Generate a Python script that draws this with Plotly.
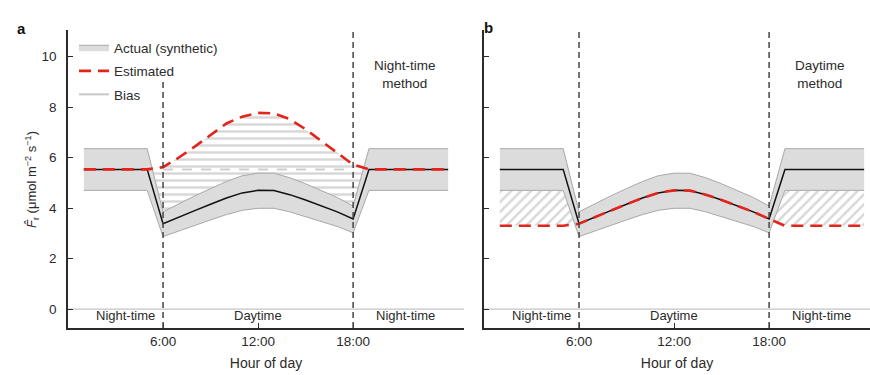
import numpy as np
import plotly.graph_objects as go

# ---------------- data ----------------
hours = [1, 5, 6, 7, 8, 9, 10, 11, 12, 13, 14, 15, 16, 17, 18, 19, 24]
actual_mid = [5.53, 5.53, 3.38, 3.65, 3.9, 4.15, 4.4, 4.6, 4.7, 4.69, 4.53, 4.32, 4.1, 3.85, 3.57, 5.53, 5.53]
actual_upper = [6.35, 6.35, 3.85, 4.18, 4.48, 4.77, 5.05, 5.28, 5.38, 5.38, 5.2, 4.96, 4.7, 4.42, 4.08, 6.35, 6.35]
actual_lower = [4.7, 4.7, 2.87, 3.1, 3.32, 3.53, 3.74, 3.91, 3.99, 3.99, 3.85, 3.66, 3.48, 3.27, 3.02, 4.7, 4.7]
est_nighttime = [5.53, 5.53, 5.62, 6.0, 6.43, 6.9, 7.35, 7.62, 7.77, 7.75, 7.52, 7.12, 6.65, 6.18, 5.72, 5.53, 5.53]
est_daytime = [3.3, 3.3, 3.38, 3.65, 3.9, 4.15, 4.4, 4.6, 4.7, 4.69, 4.53, 4.32, 4.1, 3.85, 3.57, 3.3, 3.3]
night_level_hours = [6, 18]
night_level = [5.53, 5.53]
day_bounds = [6, 18]
xtick_vals = [6, 12, 18]
xtick_text = ["6:00", "12:00", "18:00"]
ytick_vals = [0, 2, 4, 6, 8, 10]
period_labels = ["Night-time", "Daytime", "Night-time"]
period_pos = [3.6, 12, 21.3]

# ---------------- style ----------------
RED = "#e3241c"
BAND = "#dcdcdc"
EDGE = "#a8a8a8"
HATCH = "#b0b0b0"
AX = "#2b2b2b"
TXT = "#2b2b2b"
FONT = "Liberation Sans, Arial, sans-serif"

fig = go.Figure()

fine = np.linspace(hours[0], hours[-1], 1400)
up_f = np.interp(fine, hours, actual_upper)
lo_f = np.interp(fine, hours, actual_lower)
en_f = np.interp(fine, hours, est_nighttime)
ed_f = np.interp(fine, hours, est_daytime)


def panel(xa, ya, est, bias_lo, bias_hi, pattern, show_legend, baseline):
    # actual band
    fig.add_trace(go.Scatter(x=hours, y=actual_upper, xaxis=xa, yaxis=ya, mode="lines",
                             line=dict(color=EDGE, width=1), showlegend=False, hoverinfo="skip"))
    fig.add_trace(go.Scatter(x=hours, y=actual_lower, xaxis=xa, yaxis=ya, mode="lines",
                             line=dict(color=EDGE, width=1), fill="tonexty", fillcolor=BAND,
                             name="Actual (synthetic)", showlegend=show_legend, legendrank=1,
                             legendgroup="a", hoverinfo="skip"))
    # bias hatch
    fig.add_trace(go.Scatter(x=fine, y=bias_lo, xaxis=xa, yaxis=ya, mode="lines",
                             line=dict(width=0, color="rgba(0,0,0,0)"), showlegend=False, hoverinfo="skip"))
    fig.add_trace(go.Scatter(x=fine, y=bias_hi, xaxis=xa, yaxis=ya, mode="lines",
                             line=dict(width=0, color="rgba(0,0,0,0)"), fill="tonexty",
                             fillcolor="rgba(0,0,0,0)",
                             fillpattern=dict(shape=pattern, fgcolor=HATCH, bgcolor="rgba(255,255,255,0)",
                                              size=7, solidity=0.35),
                             showlegend=False, hoverinfo="skip"))
    if baseline:
        fig.add_trace(go.Scatter(x=night_level_hours, y=night_level, xaxis=xa, yaxis=ya, mode="lines",
                                 line=dict(color="#cfcfcf", width=2, dash="10px,9px"),
                                 showlegend=False, hoverinfo="skip"))
    # actual mid line
    fig.add_trace(go.Scatter(x=hours, y=actual_mid, xaxis=xa, yaxis=ya, mode="lines",
                             line=dict(color="#111111", width=1.5), showlegend=False, hoverinfo="skip"))
    # estimated
    fig.add_trace(go.Scatter(x=hours, y=est, xaxis=xa, yaxis=ya, mode="lines",
                             line=dict(color=RED, width=2.6, dash="12px,7px"),
                             name="Estimated", showlegend=show_legend, legendrank=2,
                             legendgroup="b", hoverinfo="skip"))


panel("x", "y", est_nighttime, up_f, np.maximum(en_f, up_f), "-", True, True)
panel("x2", "y2", est_daytime, np.minimum(ed_f, lo_f), lo_f, "/", False, False)

# legend-only bias entry
fig.add_trace(go.Scatter(x=[None], y=[None], mode="lines", line=dict(color="#c8c8c8", width=2),
                         name="Bias", legendrank=3, legendgroup="c"))

# vertical boundaries
for xa, ya, tops in (("x", "y", [9.1, 11.05]), ("x2", "y2", [11.05, 11.05])):
    for b, top in zip(day_bounds, tops):
        fig.add_shape(type="line", xref=xa, yref=ya, x0=b, x1=b, y0=-0.75, y1=top,
                      line=dict(color="#444444", width=1.5, dash="6px,4px"), layer="above")
    fig.add_shape(type="line", xref=f"{xa} domain", yref=ya, x0=0, x1=1, y0=0, y1=0,
                  line=dict(color="#c4c4c4", width=1.2), layer="below")
    for lab, p in zip(period_labels, period_pos):
        fig.add_annotation(x=p, y=-0.27, xref=xa, yref=ya, text=lab, showarrow=False,
                           font=dict(size=13, color=TXT, family=FONT))

fig.add_annotation(x=21.3, y=9.3, xref="x", yref="y", text="Night-time<br>method", showarrow=False,
                   font=dict(size=13.5, color=TXT, family=FONT))
fig.add_annotation(x=21.2, y=9.3, xref="x2", yref="y2", text="Daytime<br>method", showarrow=False,
                   font=dict(size=13.5, color=TXT, family=FONT))

# panel letters
fig.add_annotation(x=15 / 870, y=1 - 18 / 375, xref="paper", yref="paper", text="<b>a</b>",
                   showarrow=False, font=dict(size=15, color="#111", family=FONT))
fig.add_annotation(x=488 / 870, y=1 - 17 / 375, xref="paper", yref="paper", text="<b>b</b>",
                   showarrow=False, font=dict(size=15, color="#111", family=FONT))

# y-axis title
fig.add_annotation(x=21 / 870, y=1 - 180 / 375, xref="paper", yref="paper",
                   text="<i>F̂</i><sub>r</sub> (μmol m<sup>−2</sup> s<sup>−1</sup>)",
                   textangle=-90, showarrow=False, font=dict(size=13, color=TXT, family=FONT))

xcommon = dict(showgrid=False, zeroline=False, showline=True, linecolor=AX, linewidth=1.5,
               ticks="inside", ticklen=5, tickwidth=1.2, tickcolor=AX,
               tickvals=xtick_vals, ticktext=xtick_text,
               tickfont=dict(size=13.5, color=TXT, family=FONT),
               title=dict(text="Hour of day", font=dict(size=14, color=TXT, family=FONT), standoff=10))
ycommon = dict(showgrid=False, zeroline=False, showline=True, linecolor=AX, linewidth=1.5,
               ticks="inside", ticklen=5, tickwidth=1.2, tickcolor=AX,
               tickvals=ytick_vals, range=[-0.75, 11.05],
               tickfont=dict(size=13.5, color=TXT, family=FONT))

ydom = [47 / 375, 345 / 375]
fig.update_layout(
    width=870, height=375,
    margin=dict(l=0, r=0, t=0, b=0),
    paper_bgcolor="white", plot_bgcolor="white",
    font=dict(family=FONT, color=TXT),
    xaxis=dict(domain=[68 / 870, 464 / 870], range=[0, 25], anchor="y", **xcommon),
    yaxis=dict(domain=ydom, anchor="x", ticklabelstandoff=7, **ycommon),
    xaxis2=dict(domain=[484 / 870, 1], range=[0, 24.37], anchor="y2", **xcommon),
    yaxis2=dict(domain=ydom, anchor="x2", showticklabels=False, **ycommon),
    legend=dict(x=74 / 870, y=1 - 32 / 375, xanchor="left", yanchor="top",
                bgcolor="rgba(0,0,0,0)", font=dict(size=13.5, color=TXT, family=FONT),
                tracegroupgap=3, itemwidth=30),
    showlegend=True,
)

fig.write_html("out.html", config={"displayModeBar": False},
               post_script="document.body.style.margin='0';document.body.style.padding='0';")
